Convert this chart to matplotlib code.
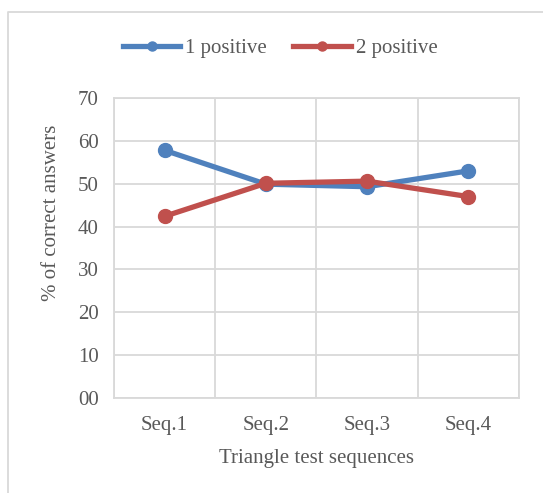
import matplotlib

matplotlib.use("Agg")
import matplotlib.pyplot as plt
from matplotlib.lines import Line2D

categories = ["Seq.1", "Seq.2", "Seq.3", "Seq.4"]
one_positive = [57.8, 49.9, 49.3, 53.0]
two_positive = [42.4, 50.1, 50.6, 47.0]
y_ticks = [0, 10, 20, 30, 40, 50, 60, 70]
y_labels = ["00", "10", "20", "30", "40", "50", "60", "70"]

plt.rcParams["font.family"] = ["Liberation Serif", "DejaVu Serif"]
text_color = "#595959"
grid_color = "#d9d9d9"
fs = 15

fig = plt.figure(figsize=(5.43, 4.93), dpi=100)
ax = fig.add_axes([0.2099, 0.1927, 0.7459, 0.6085])

x = list(range(len(categories)))
ax.plot(x, one_positive, "o-", color="#4f81bd", lw=3.8, ms=10, label="1 positive", zorder=3)
ax.plot(x, two_positive, "o-", color="#c0504d", lw=3.8, ms=10, label="2 positive", zorder=4)

ax.set_xlim(-0.5, len(categories) - 0.5)
ax.set_ylim(0, 70)
ax.set_yticks(y_ticks)
ax.set_yticklabels(y_labels)
ax.set_xticks(x)
ax.set_xticklabels(categories)
ax.set_xticks([i + 0.5 for i in range(-1, len(categories))], minor=True)
ax.grid(True, which="major", axis="y", color=grid_color, lw=1.3)
ax.grid(True, which="minor", axis="x", color=grid_color, lw=1.3)
ax.tick_params(which="both", length=0, labelsize=fs, colors=text_color)
ax.tick_params(axis="x", pad=13)
ax.tick_params(axis="y", pad=11)
for s in ax.spines.values():
    s.set_color(grid_color)
    s.set_linewidth(1.3)
ax.set_axisbelow(True)

ax.set_xlabel("Triangle test sequences", fontsize=fs, color=text_color, labelpad=10)
ax.set_ylabel("% of correct answers", fontsize=fs, color=text_color, labelpad=12, y=0.617)

fig.legend(*ax.get_legend_handles_labels(), loc="center", bbox_to_anchor=(0.516, 0.902),
           ncol=2, frameon=False, fontsize=fs, labelcolor=text_color, handlelength=2.75,
           handletextpad=0.25, columnspacing=1.25, markerscale=0.65)

fig.add_artist(Line2D([8 / 543, 8 / 543, 1.0], [0.0, 1 - 12 / 493, 1 - 12 / 493],
                      transform=fig.transFigure, color="#d9d9d9", lw=1.3))

fig.savefig("out.png", dpi=100)
